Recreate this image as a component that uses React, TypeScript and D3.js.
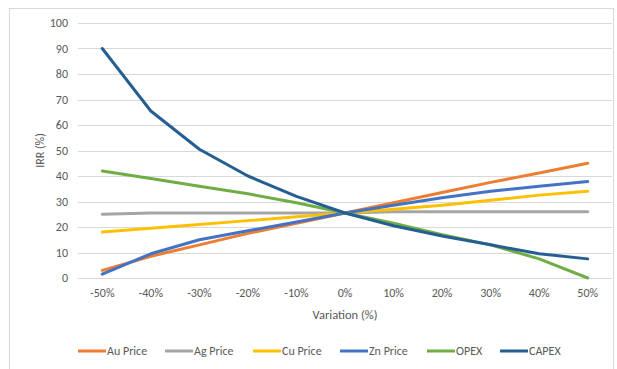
import { useEffect, useRef } from 'react'
import * as d3 from 'd3'

const categories = ['-50%', '-40%', '-30%', '-20%', '-10%', '0%', '10%', '20%', '30%', '40%', '50%']
const auPrice = [3, 8.5, 13, 17.5, 21.5, 25.5, 29.5, 33.5, 37.5, 41.2, 45]
const agPrice = [25, 25.5, 25.5, 25.5, 25.5, 25.5, 26, 26, 26, 26, 26]
const cuPrice = [18, 19.5, 21, 22.5, 24, 25.5, 27, 28.5, 30.5, 32.5, 34]
const znPrice = [1.5, 9.5, 15, 18.5, 22, 25.5, 28.5, 31.5, 34, 36, 37.8]
const opex = [42, 39, 36, 33, 29.5, 25.5, 21.5, 17, 13, 7.5, 0]
const capex = [90, 65.5, 50.5, 40, 32, 25.5, 20.5, 16.5, 13, 9.5, 7.5]
const yTicks = [0, 10, 20, 30, 40, 50, 60, 70, 80, 90, 100]

const series = [
  { name: 'Au Price', values: auPrice, color: '#ED7D31' },
  { name: 'Ag Price', values: agPrice, color: '#A5A5A5' },
  { name: 'Cu Price', values: cuPrice, color: '#FFC000' },
  { name: 'Zn Price', values: znPrice, color: '#4472C4' },
  { name: 'OPEX', values: opex, color: '#70AD47' },
  { name: 'CAPEX', values: capex, color: '#255E91' },
]

const W = 617, H = 369
const FONT = 'Carlito, Lato, "Open Sans", sans-serif'

export default function App() {
  const svgRef = useRef<SVGSVGElement>(null)

  useEffect(() => {
    const svg = d3.select(svgRef.current)
    svg.selectAll('*').remove()

    const left = 78, right = 612, top = 23, bottom = 278

    svg.append('rect').attr('x', 9.5).attr('y', 8.5).attr('width', 604).attr('height', 370)
      .attr('fill', '#fff').attr('stroke', '#D9D9D9')

    const x = d3.scaleBand<string>().domain(categories).range([left, right])
    const y = d3.scaleLinear().domain([0, 100]).range([bottom, top])

    // gridlines
    svg.append('g').selectAll('line').data(yTicks).join('line')
      .attr('x1', left).attr('x2', right)
      .attr('y1', (d) => Math.round(y(d)) + 0.5).attr('y2', (d) => Math.round(y(d)) + 0.5)
      .attr('stroke', '#D9D9D9').attr('stroke-width', 1)

    svg.append('g').selectAll('text').data(yTicks).join('text')
      .attr('x', 68).attr('y', (d) => y(d)).attr('dy', '0.35em')
      .attr('text-anchor', 'end').attr('font-size', 12).attr('font-family', FONT)
      .attr('fill', '#595959').text((d) => d)

    svg.append('g').selectAll('text').data(categories).join('text')
      .attr('x', (d) => x(d)! + x.bandwidth() / 2).attr('y', 293).attr('dy', '0.35em')
      .attr('text-anchor', 'middle').attr('font-size', 12).attr('font-family', FONT)
      .attr('fill', '#595959').text((d) => d)

    svg.append('text').attr('transform', `translate(40,${(top + bottom) / 2}) rotate(-90)`)
      .attr('text-anchor', 'middle').attr('dy', '0.35em').attr('font-size', 12).attr('font-family', FONT)
      .attr('fill', '#595959').text('IRR (%)')

    svg.append('text').attr('x', (left + right) / 2).attr('y', 315).attr('dy', '0.35em')
      .attr('text-anchor', 'middle').attr('font-size', 12.5).attr('font-family', FONT)
      .attr('fill', '#595959').text('Variation (%)')

    const line = d3.line<number>()
      .x((_, i) => x(categories[i])! + x.bandwidth() / 2)
      .y((d) => y(d))

    series.forEach((s) => {
      svg.append('path').attr('d', line(s.values)).attr('fill', 'none')
        .attr('stroke', s.color).attr('stroke-width', 3).attr('stroke-linejoin', 'round')
        .attr('stroke-linecap', 'round')
    })

    // legend
    const legendX = [78, 165, 253, 340, 427, 500]
    const lg = svg.append('g')
    series.forEach((s, i) => {
      lg.append('line').attr('x1', legendX[i]).attr('x2', legendX[i] + 28)
        .attr('y1', 351).attr('y2', 351).attr('stroke', s.color).attr('stroke-width', 3)
      lg.append('text').attr('x', legendX[i] + 29).attr('y', 351).attr('dy', '0.35em')
        .attr('font-size', 12).attr('font-family', FONT).attr('fill', '#595959').text(s.name)
    })
  }, [])

  return (
    <svg ref={svgRef} width={W} height={H}
      style={{ position: 'absolute', left: 0, top: 0, display: 'block', background: '#fff' }} />
  )
}
